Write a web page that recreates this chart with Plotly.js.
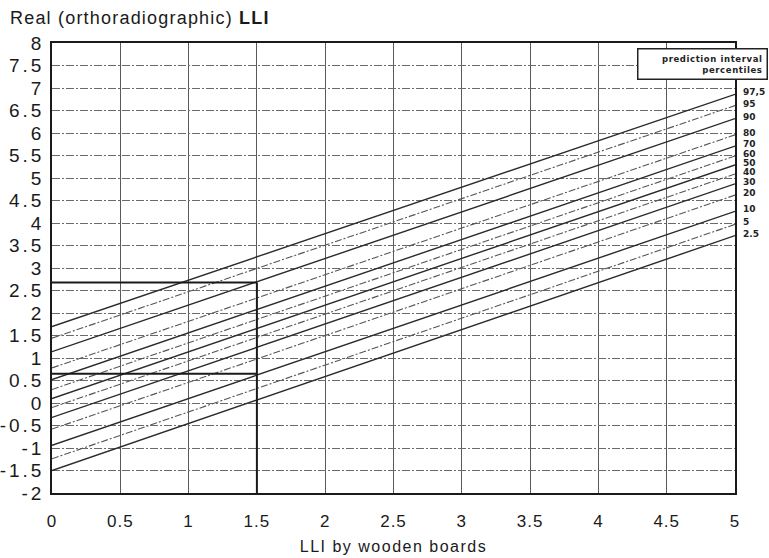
<!DOCTYPE html>
<html>
<head>
<meta charset="utf-8">
<script src="https://cdn.plot.ly/plotly-3.0.1.min.js"></script>
<style>
html,body{margin:0;padding:0;background:#fff;}
#chart{width:769px;height:558px;}
#chart .ytick text{letter-spacing:3px;}
#chart .xtick text{letter-spacing:1px;}
</style>
</head>
<body>
<div id="chart"></div>
<script>
// Percentile lines: value at x=0 and at x=5
const percentiles = ["97,5","95","90","80","70","60","50","40","30","20","10","5","2.5"];
const startY = [1.70, 1.44, 1.14, 0.78, 0.52, 0.30, 0.10, -0.10, -0.32, -0.58, -0.94, -1.24, -1.50];
const endY   = [6.86, 6.61, 6.32, 5.96, 5.71, 5.49, 5.29, 5.09, 4.87, 4.62, 4.26, 3.97, 3.72];
const lineStyle = ["solid","dash","solid","dash","solid","dash","solid","dash","solid","dash","solid","dash","solid"];
const xRange = [0, 5];

// Worked example box (x = 1.5, 10th to 90th percentile)
const exampleX = 1.5;
const exampleLow = 0.65;
const exampleHigh = 2.68;
const yMin = -2;

const xTicks = [0,0.5,1,1.5,2,2.5,3,3.5,4,4.5,5];
const yTicks = [-2,-1.5,-1,-0.5,0,0.5,1,1.5,2,2.5,3,3.5,4,4.5,5,5.5,6,6.5,7,7.5,8];

const traces = [];
percentiles.forEach((p, i) => {
  traces.push({
    x: xRange, y: [startY[i], endY[i]], mode: 'lines', type: 'scatter',
    line: {color: lineStyle[i]==='solid' ? '#2a2a2a' : '#555',
           width: lineStyle[i]==='solid' ? 1.4 : 1.1,
           dash: lineStyle[i]==='solid' ? 'solid' : '7px,2px,2px,2px'},
    hoverinfo: 'skip', showlegend: false
  });
});
// box
traces.push({x:[exampleX, exampleX], y:[yMin, exampleHigh], mode:'lines', line:{color:'#1a1a1a', width:2}, showlegend:false, hoverinfo:'skip'});
traces.push({x:[xRange[0], exampleX], y:[exampleHigh, exampleHigh], mode:'lines', line:{color:'#1a1a1a', width:2}, showlegend:false, hoverinfo:'skip'});
traces.push({x:[xRange[0], exampleX], y:[exampleLow, exampleLow], mode:'lines', line:{color:'#1a1a1a', width:2}, showlegend:false, hoverinfo:'skip'});

const annotations = percentiles.map((p, i) => ({
  x: xRange[1], y: endY[i], xref: 'x', yref: 'y', text: p, showarrow: false,
  xanchor: 'left', yanchor: 'middle', xshift: 6, yshift: 2,
  font: {family: 'DejaVu Sans, sans-serif', size: 9, color: '#222', weight: 'bold'}
}));
annotations.push({
  xref: 'paper', yref: 'paper', x: 0.953, y: 0.953, xanchor: 'center', yanchor: 'middle',
  text: '<span style="letter-spacing:0.6px"><b>prediction interval</b><br><b>percentiles</b></span>',
  align: 'right', showarrow: false,
  bgcolor: '#fff', bordercolor: '#222', borderwidth: 1.5, borderpad: 4, width: 120,
  font: {family: 'DejaVu Sans, sans-serif', size: 8.5, color: '#222'}
});
annotations.push({
  xref: 'paper', yref: 'paper', x: -0.064, y: 1.055, xanchor: 'left', yanchor: 'middle',
  text: '<span style="letter-spacing:1.2px">Real (orthoradiographic) <b>LLI</b></span>', showarrow: false,
  font: {family: 'Liberation Sans, Arial, sans-serif', size: 18, color: '#1a1a1a'}
});

const layout = {
  width: 769, height: 558,
  margin: {l: 52, r: 34, t: 43, b: 65},
  paper_bgcolor: '#fff', plot_bgcolor: '#fff',
  showlegend: false,
  xaxis: {
    range: [0, 5], tickvals: xTicks, ticktext: xTicks.map(String),
    showgrid: true, gridcolor: '#5a5a5a', gridwidth: 1,
    zeroline: false, showline: true, linecolor: '#1a1a1a', linewidth: 1.8, mirror: true,
    ticks: '', ticklabelstandoff: 12,
    tickfont: {family: 'Liberation Sans, Arial, sans-serif', size: 17, color: '#1a1a1a'},
    title: {text: '<span style="letter-spacing:1.5px">LLI by wooden boards</span>', standoff: 10,
            font: {family: 'Liberation Sans, Arial, sans-serif', size: 16, color: '#1a1a1a'}}
  },
  yaxis: {
    range: [-2, 8], tickvals: yTicks, ticktext: yTicks.map(String),
    showgrid: true, gridcolor: '#6a6a6a', gridwidth: 1, griddash: '8px,2px,2px,2px',
    zeroline: false, showline: true, linecolor: '#1a1a1a', linewidth: 1.8, mirror: true,
    ticks: '', ticklabelstandoff: 2,
    tickfont: {family: 'Liberation Sans, Arial, sans-serif', size: 19, color: '#1a1a1a'}
  },
  annotations: annotations
};

Plotly.newPlot('chart', traces, layout, {displayModeBar: false, staticPlot: true});
</script>
</body>
</html>
